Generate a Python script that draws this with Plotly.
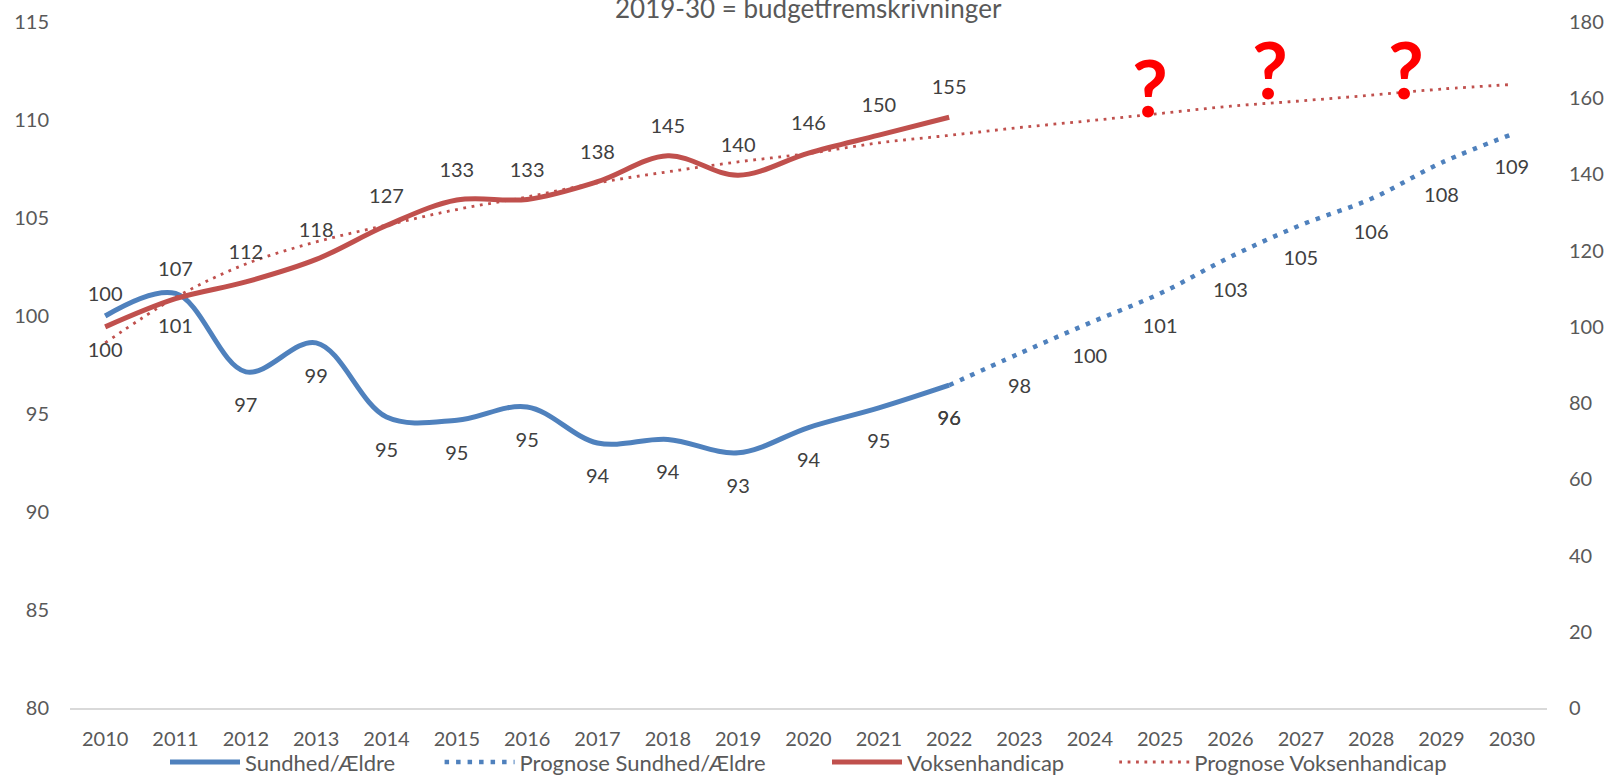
import plotly.graph_objects as go

# ---------------- data ----------------
years_actual = [2010, 2011, 2012, 2013, 2014, 2015, 2016, 2017, 2018, 2019, 2020, 2021, 2022]
years_prog = [2022, 2023, 2024, 2025, 2026, 2027, 2028, 2029, 2030]
years_all = list(range(2010, 2031))

sundhed = [100.0, 101.15, 97.15, 98.63, 94.85, 94.68, 95.36, 93.52, 93.70, 93.02, 94.31, 95.31, 96.47]
prognose_sundhed = [96.47, 98.09, 99.65, 101.15, 103.02, 104.64, 105.98, 107.82, 109.27]
voksen = [100.0, 107.4, 111.8, 117.7, 126.6, 133.3, 133.45, 138.1, 144.9, 139.8, 145.6, 150.3, 155.0]
prognose_voksen = [95.8, 107.7, 116.5, 122.3, 126.7, 130.8, 134.1, 137.8, 140.7, 143.3, 145.5,
                   148.3, 150.25, 152.3, 154.1, 156.0, 157.9, 159.3, 160.8, 162.4, 163.6]

left_ticks = [80, 85, 90, 95, 100, 105, 110, 115]
right_ticks = [0, 20, 40, 60, 80, 100, 120, 140, 160, 180]

question_x = [2024.85, 2026.56, 2028.5]
question_y = [163.0, 167.7, 167.7]

title_text = "2019-30 = budgetfremskrivninger"
series_names = ["Sundhed/Ældre", "Prognose Sundhed/Ældre", "Voksenhandicap", "Prognose Voksenhandicap"]

# ---------------- style ----------------
BLUE = "#4F81BD"
RED = "#C0504D"
FONT = "Lato"
TICK_COLOR = "#595959"
LABEL_COLOR = "#404040"
FS = 20
NB = "\u00a0"
legend_pad = [7, 10, 8, 0]
legend_names = [n + NB * p for n, p in zip(series_names, legend_pad)]

fig = go.Figure()

fig.add_trace(go.Scatter(x=years_actual, y=sundhed, name=legend_names[0], mode="lines",
                         line=dict(color=BLUE, width=5, shape="spline"), yaxis="y"))
fig.add_trace(go.Scatter(x=years_prog, y=prognose_sundhed, name=legend_names[1], mode="lines",
                         line=dict(color=BLUE, width=4.5, dash="4.5px,7px", shape="spline"), yaxis="y"))
fig.add_trace(go.Scatter(x=years_actual, y=voksen, name=legend_names[2], mode="lines",
                         line=dict(color=RED, width=5, shape="spline"), yaxis="y2"))
fig.add_trace(go.Scatter(x=years_all, y=prognose_voksen, name=legend_names[3], mode="lines",
                         line=dict(color=RED, width=2.8, dash="2.8px,5.6px", shape="spline"), yaxis="y2"))

# data labels (invisible markers used to push labels away from the line)
n_a = len(years_actual)
blue_pos = ["top center"] + ["bottom center"] * (n_a - 1)
blue_size = [14] + [38] * (n_a - 1)
red_pos = ["bottom center"] + ["top center"] * (n_a - 1)
red_size = [22] + [27] * (n_a - 1)

lab_font = dict(family=FONT, size=FS, color=LABEL_COLOR)
fig.add_trace(go.Scatter(x=years_actual, y=sundhed, mode="markers+text", texttemplate="%{y:.0f}",
                         textposition=blue_pos, marker=dict(size=blue_size, opacity=0),
                         textfont=lab_font, showlegend=False, hoverinfo="skip", cliponaxis=False, yaxis="y"))
fig.add_trace(go.Scatter(x=years_prog, y=prognose_sundhed, mode="markers+text", texttemplate="%{y:.0f}",
                         textposition="bottom center", marker=dict(size=38, opacity=0),
                         textfont=lab_font, showlegend=False, hoverinfo="skip", cliponaxis=False, yaxis="y"))
fig.add_trace(go.Scatter(x=years_actual, y=voksen, mode="markers+text", texttemplate="%{y:.0f}",
                         textposition=red_pos, marker=dict(size=red_size, opacity=0),
                         textfont=lab_font, showlegend=False, hoverinfo="skip", cliponaxis=False, yaxis="y2"))

for qx, qy in zip(question_x, question_y):
    fig.add_annotation(x=qx, y=qy, xref="x", yref="y2", text="<b>?</b>", showarrow=False,
                       font=dict(family=FONT, size=78, color="#FF0000"), yanchor="middle")

fig.add_annotation(x=0.5, y=1, xref="paper", yref="paper", text=title_text, showarrow=False,
                   yanchor="bottom", yshift=-4, font=dict(family=FONT, size=26, color=TICK_COLOR))

fig.update_layout(
    width=1609, height=776,
    margin=dict(l=70, r=62, t=22, b=68, autoexpand=False),
    paper_bgcolor="white", plot_bgcolor="white",
    font=dict(family=FONT, size=FS, color=TICK_COLOR),
    showlegend=True,
    legend=dict(orientation="h", x=0.5, xanchor="center", y=-0.079, yanchor="middle",
                font=dict(family=FONT, size=22, color=TICK_COLOR), itemwidth=70,
                bgcolor="rgba(0,0,0,0)"),
    xaxis=dict(range=[2009.5, 2030.5], tickmode="array", tickvals=years_all,
               ticktext=[str(y) for y in years_all], showgrid=False, zeroline=False,
               showline=True, linecolor="#D9D9D9", linewidth=1.5, ticks="",
               ticklabelstandoff=12, tickfont=dict(family=FONT, size=FS, color=TICK_COLOR)),
    yaxis=dict(range=[80, 115], tickvals=left_ticks, showgrid=False, zeroline=False,
               showline=False, ticks="", ticklabelstandoff=20,
               tickfont=dict(family=FONT, size=FS, color=TICK_COLOR)),
    yaxis2=dict(range=[0, 180], tickvals=right_ticks, overlaying="y", side="right",
                showgrid=False, zeroline=False, showline=False, ticks="", ticklabelstandoff=21,
                tickfont=dict(family=FONT, size=FS, color=TICK_COLOR)),
)

fig.write_html("out.html", config={"displayModeBar": False},
               post_script="document.body.style.margin='0px';")
